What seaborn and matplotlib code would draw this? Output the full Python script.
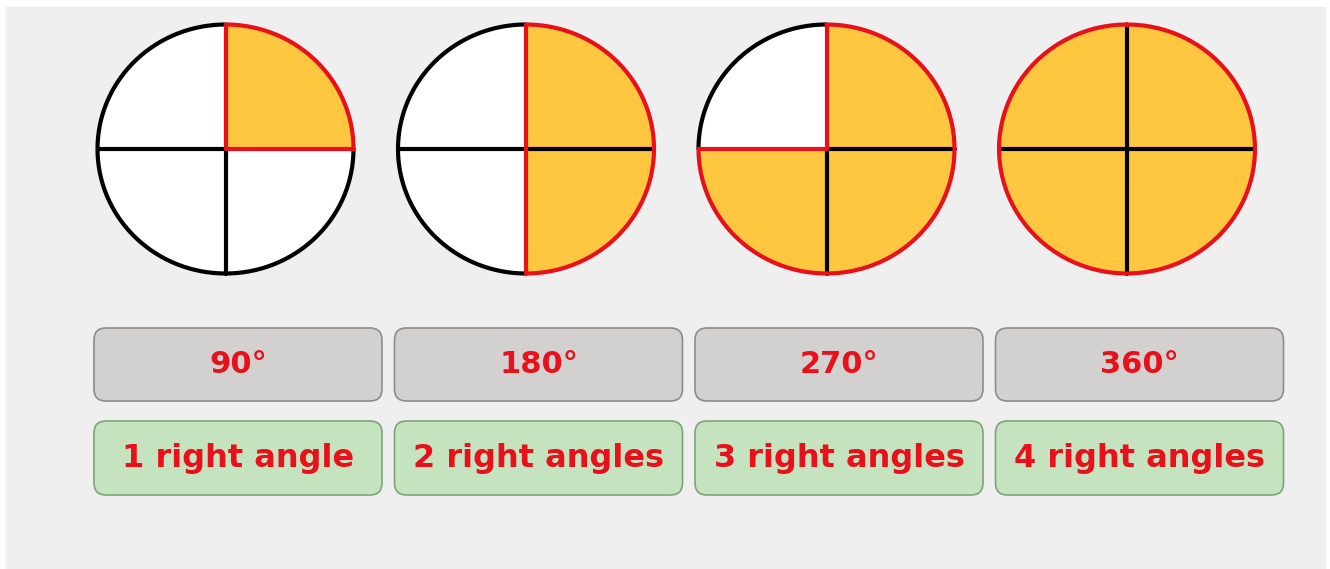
import numpy as np
import seaborn as sns
import matplotlib.pyplot as plt
from matplotlib.patches import FancyBboxPatch, Rectangle

sns.set_style('white')
plt.rcParams['font.family'] = ['DejaVu Sans']

# data
angles = [90, 180, 270, 360]
quarters = [1, 2, 3, 4]
angle_labels = ['90°', '180°', '270°', '360°']
name_labels = ['1 right angle', '2 right angles', '3 right angles', '4 right angles']

ORANGE = '#FFC640'
RED = '#E8101A'
LW = 3.0

fig = plt.figure(figsize=(13.3, 5.69), dpi=100)
ax = fig.add_axes([0, 0, 1, 1])
ax.set_xlim(0, 1330)
ax.set_ylim(569, 0)
ax.axis('off')
ax.add_patch(Rectangle((6, 7), 1319, 562, color='#EFEFEF', zorder=0))

cx0, step = 225.5, 300.5
cy, rx, ry = 149, 128, 124.5
box_w, box_h = 288, 73


def arc(theta1, theta2, n=100):
    # angles measured clockwise from 12 o'clock, in degrees
    t = np.radians(np.linspace(theta1, theta2, n))
    return rx * np.sin(t), -ry * np.cos(t)


for i, (deg, q) in enumerate(zip(angles, quarters)):
    cx = cx0 + i * step
    # white disc
    xs, ys = arc(0, 360)
    ax.fill(cx + xs, cy + ys, color='white', zorder=1)
    # filled sector
    xs, ys = arc(0, deg)
    ax.fill(np.r_[cx, cx + xs], np.r_[cy, cy + ys], color=ORANGE, zorder=2)
    # black remaining arc
    if deg < 360:
        xs, ys = arc(deg, 360)
        ax.plot(cx + xs, cy + ys, color='black', lw=LW, zorder=3, solid_capstyle='round')
    # radii (every 90 deg), red if on filled boundary
    for a in range(0, 360, 90):
        ex, ey = arc(a, a, 1)
        on_edge = deg < 360 and (a == 0 or a == deg)
        ax.plot([cx, cx + ex[0]], [cy, cy + ey[0]],
                color=RED if on_edge else 'black', lw=LW,
                zorder=5 if on_edge else 4)
    # red arc of filled part
    xs, ys = arc(0, deg)
    ax.plot(cx + xs, cy + ys, color=RED, lw=LW, zorder=6, solid_capstyle='round')

    bx = 94 + i * step
    ax.add_patch(FancyBboxPatch((bx, 328), box_w, box_h,
                                boxstyle='round,pad=0,rounding_size=12',
                                fc='#D3D0D0', ec='#8C8C8C', lw=1.2, zorder=2))
    ax.text(bx + box_w / 2, 328 + box_h / 2, angle_labels[i], ha='center', va='center',
            color=RED, fontsize=22, fontweight='bold', zorder=3)
    ax.add_patch(FancyBboxPatch((bx, 421), box_w, 74,
                                boxstyle='round,pad=0,rounding_size=12',
                                fc='#C6E3BF', ec='#7FA378', lw=1.2, zorder=2))
    ax.text(bx + box_w / 2, 421 + 37, name_labels[i], ha='center', va='center',
            color=RED, fontsize=23, fontweight='bold', zorder=3)

fig.savefig('out.png', dpi=100, facecolor='white')
